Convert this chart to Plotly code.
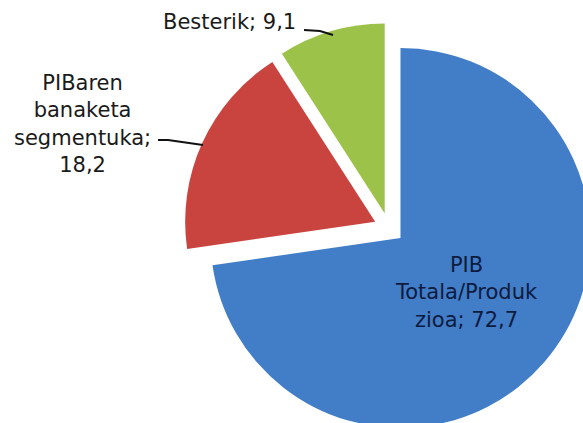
import plotly.graph_objects as go

# ---- data ----
categories = ["PIB Totala/Produkzioa", "PIBaren banaketa segmentuka", "Besterik"]
values = [72.7, 18.2, 9.1]
display_names = ["PIB<br>Totala/Produk<br>zioa", "PIBaren<br>banaketa<br>segmentuka", "Besterik"]
separators = [" ", "<br>", " "]
colors = ["#427DC8", "#C9433F", "#9CC24A"]

# ---- canvas ----
W, H = 620, 450


def px(x, y):
    return x / W, 1 - y / H


label_texts = [
    f"{n};{s}{str(v).replace('.', ',')}" for n, s, v in zip(display_names, separators, values)
]

fig = go.Figure(
    go.Pie(
        labels=categories,
        values=values,
        sort=False,
        direction="clockwise",
        rotation=0,
        pull=[0.08, 0.08, 0.08],
        marker=dict(colors=colors, line=dict(width=0)),
        textinfo="none",
        hoverinfo="label+value",
        showlegend=False,
        domain=dict(x=[183.8 / W, 594.2 / W], y=[(H - 433.2) / H, (H - 22.8) / H]),
    )
)

font = "DejaVu Sans, Verdana, sans-serif"
label_pos = [(467, 292, "#0d1b3e"), (82, 124, "#1a1a1a"), (229, 22, "#1a1a1a")]
for t, (x, y, c) in zip(label_texts, label_pos):
    ax, ay = px(x, y)
    fig.add_annotation(
        x=ax, y=ay, xref="paper", yref="paper", text=t, showarrow=False,
        font=dict(family=font, size=21, color=c), align="center",
        xanchor="center", yanchor="middle",
    )

# leader lines
leaders = [
    [(158, 140), (168, 140), (203, 145)],
    [(304, 30), (320, 31), (333, 35)],
]
for pts in leaders:
    p = [px(x, y) for x, y in pts]
    path = "M " + " L ".join(f"{a:.5f},{b:.5f}" for a, b in p)
    fig.add_shape(type="path", path=path, xref="paper", yref="paper",
                  line=dict(color="#111111", width=2))

fig.update_layout(
    width=W, height=H,
    margin=dict(l=0, r=0, t=0, b=0),
    paper_bgcolor="white",
    plot_bgcolor="white",
)

fig.write_html(
    "out.html",
    config={"displayModeBar": False},
    post_script="document.body.style.margin='0';document.body.style.overflow='hidden';document.documentElement.style.overflow='hidden';",
)
